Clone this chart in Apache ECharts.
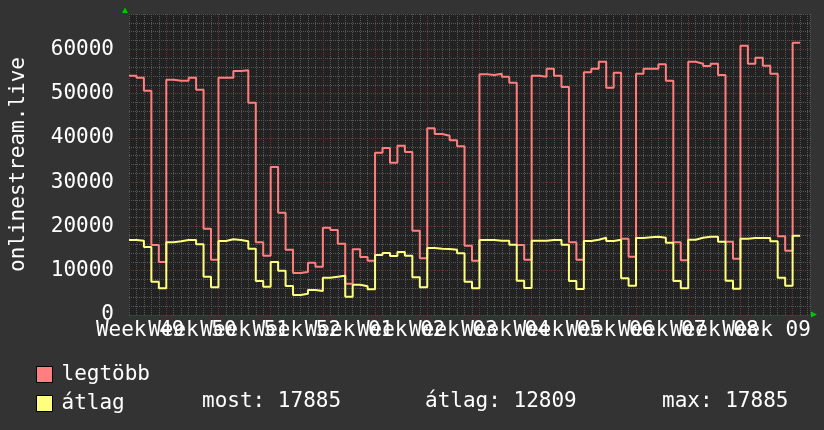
<!DOCTYPE html>
<html><head><meta charset="utf-8">
<script src="https://cdn.jsdelivr.net/npm/echarts@6/dist/echarts.min.js"></script>
<style>html,body{margin:0;padding:0;background:#333;}#c{width:824px;height:430px;}</style>
</head><body><div id="c"></div>
<script>
// ---- data (one value per day, first day = a Wednesday of week 49) ----
const seriesNames = ['legtöbb', 'átlag'];
const legtobb = [
  54070,53610,50680,15810,11970,53160,52940,52940,53610,50900,
  19500,12500,53610,53610,55120,55270,47970,16420,13400,33430,
  23120,14760,9490,9710,11820,10920,19730,19200,16110,7080,
  14830,13100,12270,36670,37730,34410,38250,36820,19050,12800,
  42170,40890,40510,39460,38100,15660,12270,54370,54220,54520,
  53840,52480,15810,12500,54070,53840,55650,54070,51510,16420,
  12500,54820,55650,57230,51360,54740,17240,13180,54520,55650,
  55650,56630,52940,16420,12350,57230,56780,56250,56780,54220,
  16570,12730,60840,56780,58130,56330,54520,17770,14530,61520
];
const atlag = [
  16940,16790,15360,7530,6020,16420,16640,16940,16940,15960,
  8660,6250,16720,17090,16940,16640,14980,7680,6400,11970,
  10020,6550,4520,4820,5650,5420,8430,8660,8890,4140,
  6850,6480,5800,13550,14010,13330,14230,13400,8510,6250,
  15140,14980,14910,14760,13930,7530,6020,16940,16940,16790,
  16790,15890,7760,6100,16790,16790,16940,16940,15890,7680,
  5870,16720,17020,17470,16720,17020,8280,6630,17390,17550,
  17700,17470,16340,7680,6020,17020,17470,17700,17700,16570,
  7760,5950,17240,17390,17390,17390,16640,8430,6630,17885
];
const weekLabels = ['Week 49','Week 50','Week 51','Week 52','Week 01','Week 02','Week 03',
                    'Week 04','Week 05','Week 06','Week 07','Week 08','Week 09'];
const statLabels = ['most: 17885', 'átlag: 12809', 'max: 17885'];
const yTitle = 'onlinestream.live';

// ---- layout / style ----
const FONT = 'DejaVu Sans Mono';
const TXT = '#ffffff';
const MINOR = '#555555';
const MAJOR = '#6e3636';
const firstWeekStart = 5;       // day index of first Monday
const weekCenterOffset = 1.5;   // label centre (days) of the first, partial week
const dayMax = 91.33;

const toPoints = arr => {
  const p = arr.map((v, i) => [i, v]);
  p.push([arr.length, arr[arr.length - 1]]);
  return p;
};
const vColors = [0,1,2,3,4,5,6].map(i => (i === firstWeekStart % 7 ? MAJOR : MINOR));
const hColors = [MAJOR, MINOR, MINOR, MINOR, MINOR];

const chart = echarts.init(document.getElementById('c'), null, {renderer: 'canvas'});
chart.setOption({
  backgroundColor: '#333333',
  animation: false,
  grid: {left: 125, top: 14, width: 685, height: 301, show: true, backgroundColor: '#222222', borderWidth: 0},
  xAxis: [
    {
      type: 'value', min: 0, max: dayMax, interval: 1,
      axisLine: {show: false}, axisTick: {show: false}, axisLabel: {show: false},
      splitLine: {show: true, lineStyle: {color: vColors, width: 1, type: [1, 1]}}
    },
    {
      type: 'value', min: 0, max: dayMax, interval: 0.5, position: 'bottom',
      axisLine: {show: false}, axisTick: {show: false}, splitLine: {show: false},
      axisLabel: {
        show: true, margin: 5, color: TXT, fontFamily: FONT, fontSize: 21,
        formatter: v => {
          const k = (v - weekCenterOffset) / 7;
          const r = Math.round(k);
          return (Math.abs(k - r) < 1e-6 && weekLabels[r]) ? weekLabels[r] : '';
        }
      }
    }
  ],
  yAxis: {
    type: 'value', min: 0, max: 68000, interval: 2000,
    axisLine: {show: false}, axisTick: {show: false},
    splitLine: {show: true, lineStyle: {color: hColors, width: 1, type: [1, 1]}},
    axisLabel: {
      margin: 15, color: TXT, fontFamily: FONT, fontSize: 21,
      formatter: v => (v % 10000 === 0 ? String(v) : '')
    },
    name: yTitle, nameLocation: 'middle', nameGap: 100,
    nameTextStyle: {color: TXT, fontFamily: FONT, fontSize: 21}
  },
  legend: {
    data: seriesNames, orient: 'vertical', left: 31, top: 359,
    icon: 'rect', itemWidth: 16, itemHeight: 16, itemGap: 8, selectedMode: false,
    itemStyle: {borderColor: '#000', borderWidth: 1},
    textStyle: {color: TXT, fontFamily: FONT, fontSize: 21, padding: [0, 0, 0, 4]}
  },
  series: [
    {
      name: seriesNames[0], type: 'line', step: 'end', data: toPoints(legtobb),
      xAxisIndex: 0, symbol: 'none', color: '#ff7f7f',
      lineStyle: {width: 2, color: '#ff7f7f'}
    },
    {
      name: seriesNames[1], type: 'line', step: 'end', data: toPoints(atlag),
      xAxisIndex: 0, symbol: 'none', color: '#ffff7f',
      lineStyle: {width: 2, color: '#ffff7f'}
    }
  ],
  graphic: [
    ...statLabels.map((t, i) => ({
      type: 'text', x: [202, 425, 662][i], y: 402,
      style: {text: t, fill: TXT, font: '21px "DejaVu Sans Mono"', verticalAlign: 'middle'}
    })),
    {type: 'polygon', shape: {points: [[122, 13], [128, 13], [125, 7.5]]}, style: {fill: '#00c800'}},
    {type: 'polygon', shape: {points: [[811, 311.5], [811, 317.5], [817, 314.5]]}, style: {fill: '#00c800'}}
  ]
});
</script>
</body></html>
